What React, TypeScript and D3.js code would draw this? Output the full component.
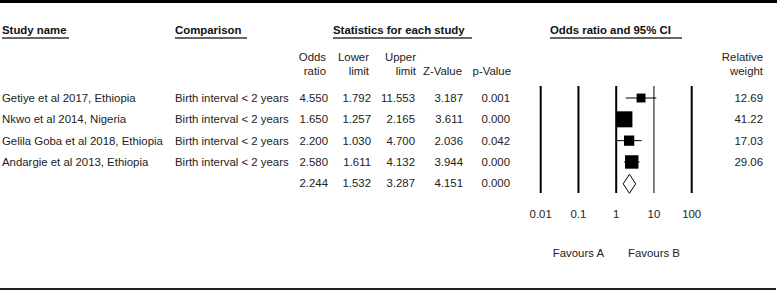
import React from "react";
import * as d3 from "d3";

const studies = [
  "Getiye et al 2017, Ethiopia",
  "Nkwo et al 2014, Nigeria",
  "Gelila Goba et al 2018, Ethiopia",
  "Andargie et al 2013, Ethiopia",
];
const comparisons = [
  "Birth interval < 2 years",
  "Birth interval < 2 years",
  "Birth interval < 2 years",
  "Birth interval < 2 years",
];
const oddsRatio = [4.55, 1.65, 2.2, 2.58];
const lower = [1.792, 1.257, 1.03, 1.611];
const upper = [11.553, 2.165, 4.7, 4.132];
const zValue = [3.187, 3.611, 2.036, 3.944];
const pValue = [0.001, 0.0, 0.042, 0.0];
const weights = [12.69, 41.22, 17.03, 29.06];
const summary = { or: 2.244, lo: 1.532, hi: 3.287, z: 4.151, p: 0.0 };
const axisTicks = [0.01, 0.1, 1, 10, 100];
const tickLabels = ["0.01", "0.1", "1", "10", "100"];

const W = 777;
const H = 291;
const FONT = "'Liberation Sans', Arial, Helvetica, sans-serif";
const FS = 11.4;

export default function App() {
  const x = d3.scaleLog().domain([0.01, 100]).range([540.7, 691.7]);
  const rowY = d3
    .scaleLinear()
    .domain([0, 4])
    .range([98, 183.3]);
  const sizeScale = d3.scaleSqrt().domain([0, 41.22]).range([0, 16]);
  const f3 = d3.format(".3f");
  const f2 = d3.format(".2f");

  const numCols = [
    { x: 328, vals: oddsRatio, s: summary.or },
    { x: 371, vals: lower, s: summary.lo },
    { x: 415, vals: upper, s: summary.hi },
    { x: 463, vals: zValue, s: summary.z },
    { x: 510, vals: pValue, s: summary.p },
  ];
  const colHeaders = [
    { x: 326, l1: "Odds", l2: "ratio" },
    { x: 369, l1: "Lower", l2: "limit" },
    { x: 416, l1: "Upper", l2: "limit" },
    { x: 462, l1: "", l2: "Z-Value" },
    { x: 511, l1: "", l2: "p-Value" },
    { x: 763, l1: "Relative", l2: "weight" },
  ];
  const groupHeaders = [
    { x1: 2, x2: 69, label: "Study name" },
    { x1: 175, x2: 247, label: "Comparison" },
    { x1: 333, x2: 472, label: "Statistics for each study" },
    { x1: 550, x2: 682, label: "Odds ratio and 95% CI" },
  ];
  const plotTop = 86;
  const plotBottom = 193;
  const sy = rowY(4);

  return (
    <svg
      width={W}
      height={H}
      style={{ position: "absolute", left: 0, top: 0, background: "#fff" }}
      fontFamily={FONT}
      fontSize={FS}
    >
      <rect x={0} y={0} width={W} height={H} fill="#fff" />
      <line x1={0} x2={W} y1={1.5} y2={1.5} stroke="#000" strokeWidth={3} />
      <line x1={0} x2={776} y1={289} y2={289} stroke="#222" strokeWidth={2} />

      {groupHeaders.map((g, i) => (
        <g key={i}>
          <text x={g.x1} y={34} fontWeight="bold" fill="#111">
            {g.label}
          </text>
          <line x1={g.x1} x2={g.x2} y1={38} y2={38} stroke="#666" strokeWidth={2} />
        </g>
      ))}

      {colHeaders.map((c, i) => (
        <g key={i} textAnchor="end" fill="#222">
          {c.l1 && (
            <text x={c.x} y={61}>
              {c.l1}
            </text>
          )}
          <text x={c.x} y={75}>
            {c.l2}
          </text>
        </g>
      ))}

      {studies.map((s, i) => (
        <g key={i} fill="#222">
          <text x={2} y={rowY(i) + 4}>
            {s}
          </text>
          <text x={175} y={rowY(i) + 4}>
            {comparisons[i]}
          </text>
          {numCols.map((c, j) => (
            <text key={j} x={c.x} y={rowY(i) + 4} textAnchor="end">
              {f3(c.vals[i])}
            </text>
          ))}
          <text x={763} y={rowY(i) + 4} textAnchor="end">
            {f2(weights[i])}
          </text>
        </g>
      ))}
      {numCols.map((c, j) => (
        <text key={j} x={c.x} y={sy + 4} textAnchor="end" fill="#222">
          {f3(c.s)}
        </text>
      ))}

      {axisTicks.map((t, i) => (
        <g key={i}>
          <line
            x1={x(t)}
            x2={x(t)}
            y1={plotTop}
            y2={plotBottom}
            stroke="#000"
            strokeWidth={t === 10 ? 1 : 2}
          />
          <text x={x(t)} y={218} textAnchor="middle" fill="#222">
            {tickLabels[i]}
          </text>
        </g>
      ))}

      {studies.map((s, i) => {
        const cy = rowY(i);
        const sz = sizeScale(weights[i]);
        return (
          <g key={i}>
            <line x1={x(lower[i])} x2={x(upper[i])} y1={cy} y2={cy} stroke="#000" strokeWidth={1} />
            <rect x={x(oddsRatio[i]) - sz / 2} y={cy - sz / 2} width={sz} height={sz} fill="#000" />
          </g>
        );
      })}
      <path
        d={`M${x(summary.lo)},${sy + 0.5} L${x(summary.or)},${sy - 9} L${x(summary.hi)},${sy + 0.5} L${x(summary.or)},${sy + 10} Z`}
        fill="#fff"
        stroke="#000"
        strokeWidth={1}
      />

      <text x={x(0.1)} y={257} textAnchor="middle" fill="#222">
        Favours A
      </text>
      <text x={x(10)} y={257} textAnchor="middle" fill="#222">
        Favours B
      </text>
    </svg>
  );
}
